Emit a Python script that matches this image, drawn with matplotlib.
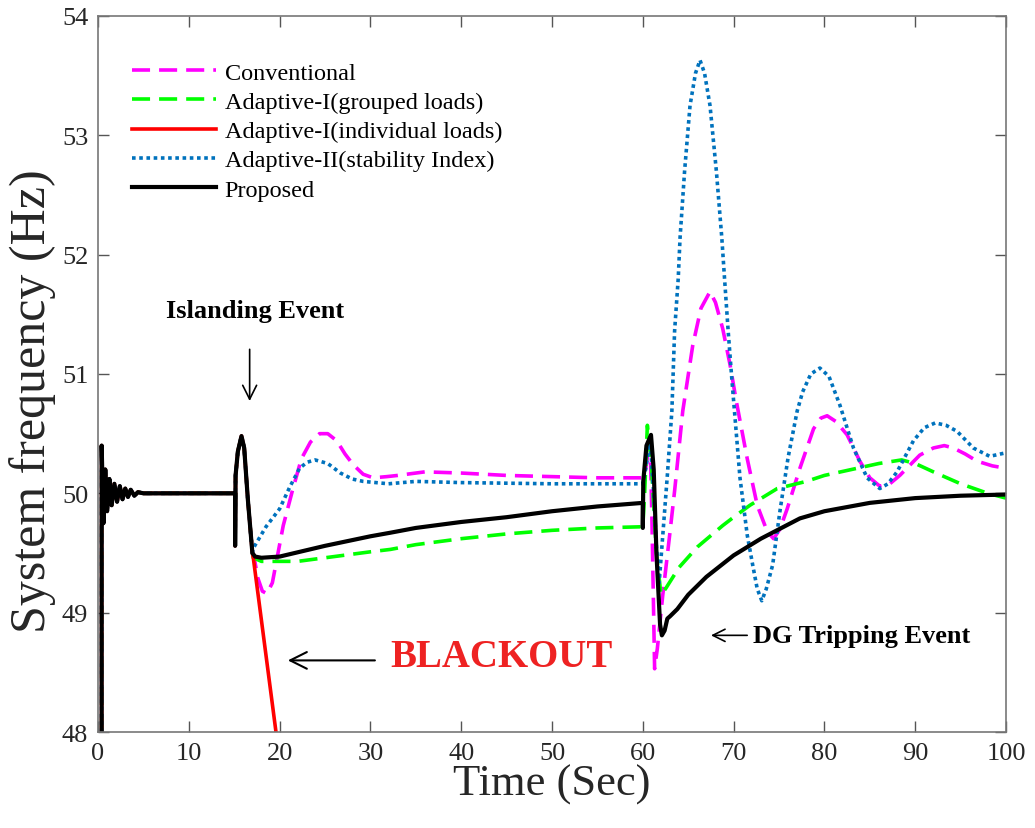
import numpy as np
import matplotlib
matplotlib.use('Agg')
import matplotlib.pyplot as plt

plt.rcParams['font.family'] = ['Liberation Serif', 'DejaVu Serif']

# common start (grid connected, islanding at 15 s) - shared by all curves
t_start = [0.4, 0.4, 0.6, 0.8, 1.0, 1.25, 1.5, 1.8, 2.1, 2.4, 2.7, 3.0, 3.3, 3.6, 4.0, 4.4, 5.0,
           15.1, 15.1, 15.15, 15.4, 15.8, 16.1, 16.5, 17.0]
f_start = [48.0, 50.4, 49.75, 50.2, 49.85, 50.12, 49.9, 50.08, 49.93, 50.06, 49.95, 50.04, 49.97, 50.03, 49.98, 50.01, 50.0,
           50.0, 49.56, 50.15, 50.35, 50.48, 50.38, 49.95, 49.5]

# Conventional
t_conv = [17.2, 17.6, 18.1, 18.6, 19.2, 20.4, 21.4, 22.4, 23.4, 24.4, 25.3, 26.3, 27.2, 28.1, 29.2, 30.3, 31.8, 33, 36, 40, 45, 50, 55, 60,
          60.3, 60.8, 61.0, 61.3, 61.6, 62.2, 63.0, 63.5, 64.4, 65.5, 66.4, 67.4, 68.0, 68.8, 69.6, 70.3, 71.5, 72.6, 73.7, 74.4, 75.1,
          75.9, 77.3, 78.8, 79.6, 80.3, 81.3, 82.5, 83.9, 85.0, 86.1, 87.2, 88.3, 90.5, 92.0, 93.2, 94.2, 95.5, 96.8, 98.5, 100]
f_conv = [49.46, 49.29, 49.18, 49.16, 49.25, 49.73, 50.02, 50.29, 50.43, 50.5, 50.5, 50.44, 50.33, 50.24, 50.16, 50.13, 50.14, 50.15, 50.18, 50.17, 50.15, 50.14, 50.13, 50.13,
          50.2, 50.45, 49.8, 48.53, 48.7, 49.15, 49.68, 50.02, 50.69, 51.24, 51.55, 51.69, 51.6, 51.38, 51.08, 50.77, 50.29, 49.9, 49.68, 49.62, 49.7,
          49.87, 50.21, 50.54, 50.63, 50.65, 50.6, 50.49, 50.27, 50.13, 50.06, 50.08, 50.15, 50.32, 50.38, 50.4, 50.38, 50.33, 50.27, 50.23, 50.21]

# Adaptive-I (grouped loads)
t_grp = [17.1, 18, 20, 22, 25, 28, 30, 32.2, 35, 40, 45, 50, 55, 60, 60.2, 60.5, 60.9, 61.5, 62.0, 62.5, 64, 66, 68.8, 70, 71.8, 74.8,
         78, 80, 83, 86, 88.5, 90, 92, 95, 98, 100]
f_grp = [49.46, 49.43, 49.43, 49.43, 49.46, 49.49, 49.51, 49.53, 49.57, 49.62, 49.66, 49.69, 49.71, 49.72, 50.0, 50.57, 50.3, 49.5, 49.15, 49.2, 49.38, 49.55, 49.73, 49.8, 49.9, 50.04,
         50.1, 50.15, 50.2, 50.25, 50.28, 50.25, 50.18, 50.08, 50.0, 49.96]

# Adaptive-I (individual loads) - blackout
t_ind = [17.1, 19.6]
f_ind = [49.46, 48.0]

# Adaptive-II (stability index)
t_stab = [17.1, 18.5, 20, 21.1, 22.2, 23.0, 23.9, 25.3, 26.7, 28, 29.2, 32, 35, 40, 50, 60, 60.3, 60.8, 61.2, 61.5, 61.8, 62.2, 62.7,
          63.2, 63.5, 63.9, 64.1, 64.6, 65.2, 65.8, 66.3, 66.8, 67.4, 68.1, 68.7, 69.0, 69.4, 69.8, 70.7, 71.5, 72.1, 72.6, 73.1, 73.6,
          74.3, 75.1, 76.0, 77.0, 77.6, 78.5, 79.5, 80.5, 81.7, 83.2, 84.7, 86.1, 87.0, 88.0, 89.8, 91.0, 92.2, 93.4, 94.6,
          96.4, 98.2, 100]
f_stab = [49.54, 49.72, 49.87, 50.05, 50.21, 50.26, 50.28, 50.25, 50.17, 50.12, 50.1, 50.08, 50.1, 50.09, 50.08, 50.08, 50.2, 50.45, 50.0, 49.55, 49.25, 49.65, 50.15,
          50.69, 51.36, 51.8, 52.14, 52.7, 53.25, 53.52, 53.63, 53.52, 53.25, 52.7, 52.14, 51.8, 51.36, 50.96, 50.13, 49.65, 49.4, 49.2, 49.1, 49.2,
          49.4, 49.85, 50.3, 50.69, 50.85, 51.0, 51.05, 50.98, 50.74, 50.38, 50.13, 50.04, 50.08, 50.18, 50.44, 50.55, 50.59, 50.57, 50.52,
          50.38, 50.31, 50.34]

# Proposed
t_prop = [17.3, 18, 20, 25, 30, 32.2, 35, 40, 45, 50, 55, 60, 60.0, 60.05, 60.4, 60.9, 61.2, 61.5, 61.9, 62.1, 62.4, 62.7, 63.0,
          63.8, 65, 67, 70, 73, 77.3, 80, 85, 90, 95, 100]
f_prop = [49.47, 49.46, 49.47, 49.56, 49.64, 49.67, 49.71, 49.76, 49.8, 49.85, 49.89, 49.92, 49.71, 50.1, 50.4, 50.49, 50.2, 49.5, 48.9, 48.81, 48.85, 48.95, 48.97,
          49.03, 49.15, 49.3, 49.48, 49.62, 49.79, 49.85, 49.92, 49.96, 49.98, 49.99]

fig = plt.figure(figsize=(10.35, 8.29), dpi=100)
ax = fig.add_axes([0.0947, 0.1158, 0.8773, 0.8637])

ax.plot(t_start + t_conv, f_start + f_conv, color='#FF00FF', lw=2.6, linestyle=(0, (5, 2.5)), label='Conventional')
ax.plot(t_start + t_grp, f_start + f_grp, color='#00FF00', lw=2.6, linestyle=(0, (5, 2.5)), label='Adaptive-I(grouped loads)')
ax.plot(t_start + t_ind, f_start + f_ind, color='#FF0000', lw=2.6, label='Adaptive-I(individual loads)')
ax.plot(t_start + t_stab, f_start + f_stab, color='#0072BD', lw=2.6, linestyle=(0, (1, 1)), label='Adaptive-II(stability Index)')
ax.plot(t_start + t_prop, f_start + f_prop, color='black', lw=3, label='Proposed')

ax.set_xlim(0, 100)
ax.set_ylim(48, 54)
ax.set_xticks(np.arange(0, 101, 10))
ax.set_yticks(np.arange(48, 55, 1))
ax.tick_params(direction='in', length=8, width=1, top=True, right=True, labelsize=19,
               colors='#555555', labelcolor='#262626', pad=7)
for s in ax.spines.values():
    s.set_color('#777777')
    s.set_linewidth(1.2)

ax.set_xlabel('Time (Sec)', fontsize=32, color='#262626', labelpad=0)
ax.set_ylabel('System frequency (Hz)', fontsize=36, color='#262626')
ax.yaxis.set_label_coords(-0.046, 0.464)

leg = ax.legend(loc='upper left', bbox_to_anchor=(0.027, 0.95), frameon=False, fontsize=17.5,
                handlelength=3.45, handletextpad=0.35, labelspacing=0.3, borderaxespad=0)

# annotations
ax.text(17.3, 51.53, 'Islanding Event', fontsize=19, fontweight='bold', ha='center', va='center')
ax.annotate('', xy=(16.7, 50.75), xytext=(16.7, 51.23),
            arrowprops=dict(arrowstyle='->', lw=1.2, color='black', mutation_scale=25))
ax.text(32.2, 48.63, 'BLACKOUT', fontsize=28, fontweight='bold', color='#EE2222', ha='left', va='center')
ax.annotate('', xy=(20.6, 48.6), xytext=(30.8, 48.6),
            arrowprops=dict(arrowstyle='->', lw=1.5, color='black', mutation_scale=30))
ax.text(72.1, 48.81, 'DG Tripping Event', fontsize=19, fontweight='bold', ha='left', va='center')
ax.annotate('', xy=(67.2, 48.81), xytext=(71.8, 48.81),
            arrowprops=dict(arrowstyle='->', lw=1.2, color='black', mutation_scale=22))

fig.savefig('out.png', dpi=100)
